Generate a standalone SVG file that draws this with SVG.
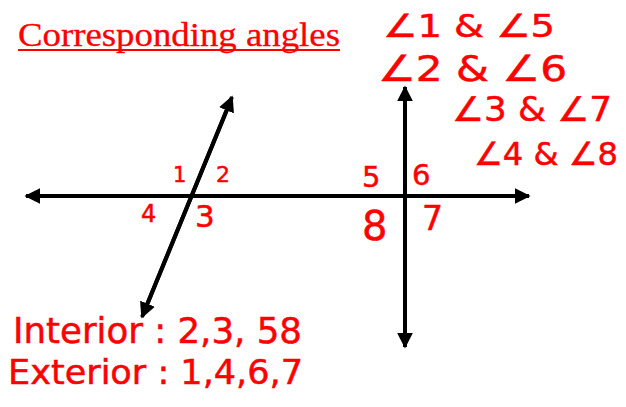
<svg xmlns="http://www.w3.org/2000/svg" width="626" height="407" viewBox="0 0 626 407">
<style>
.ln{stroke:#000;stroke-width:4;fill:none}
.hw{fill:#ff0000;stroke:#ff0000;stroke-width:0.5;font-family:"DejaVu Sans","Liberation Sans",sans-serif}
.title{fill:#ff0000;stroke:#ff0000;stroke-width:0.3;font-family:"Liberation Serif",serif;font-size:34px}
</style>
<defs>
<marker id="ah" viewBox="0 0 10 10" refX="9" refY="5" markerWidth="4" markerHeight="4" orient="auto" markerUnits="strokeWidth">
<path d="M0,0 L10,5 L0,10 z" fill="#000"/>
</marker>
</defs>
<rect width="626" height="407" fill="#fff"/>
<g id="title">
<text class="title" x="18" y="46" textLength="322" lengthAdjust="spacingAndGlyphs">Corresponding angles</text>
<rect x="18" y="49" width="322" height="2" fill="#ff0000"/>
</g>
<g id="connectors">
<line class="ln" x1="520" y1="196" x2="26" y2="196" marker-end="url(#ah)"/>
<line class="ln" x1="26" y1="196" x2="529" y2="196" marker-end="url(#ah)"/>
<line class="ln" x1="405" y1="340" x2="405" y2="87" marker-end="url(#ah)"/>
<line class="ln" x1="405" y1="90" x2="405" y2="347" marker-end="url(#ah)"/>
<line class="ln" x1="144" y1="312" x2="232" y2="97" marker-end="url(#ah)"/>
<line class="ln" x1="231" y1="100" x2="142" y2="317" marker-end="url(#ah)"/>
</g>
<g id="pairs">
<text class="hw" x="383" y="37" font-size="32" textLength="172" lengthAdjust="spacingAndGlyphs">∠1 &amp; ∠5</text>
<text class="hw" x="378" y="81" font-size="36" textLength="189" lengthAdjust="spacingAndGlyphs">∠2 &amp; ∠6</text>
<text class="hw" x="452" y="121" font-size="34" textLength="160" lengthAdjust="spacingAndGlyphs">∠3 &amp; ∠7</text>
<text class="hw" x="474" y="165" font-size="32" textLength="144" lengthAdjust="spacingAndGlyphs">∠4 &amp; ∠8</text>
</g>
<g id="angle-labels">
<text class="hw" x="173" y="182" font-size="21">1</text>
<text class="hw" x="216" y="182" font-size="22">2</text>
<text class="hw" x="362" y="187" font-size="29">5</text>
<text class="hw" x="412" y="185" font-size="29">6</text>
<text class="hw" x="141" y="222" font-size="24">4</text>
<text class="hw" x="195" y="227" font-size="31">3</text>
<text class="hw" x="362" y="240" font-size="40">8</text>
<text class="hw" x="422" y="230" font-size="33">7</text>
</g>
<g id="notes">
<text class="hw" x="13" y="343" font-size="36" textLength="289" lengthAdjust="spacingAndGlyphs">Interior : 2,3, 58</text>
<text class="hw" x="8" y="384" font-size="34" textLength="295" lengthAdjust="spacingAndGlyphs">Exterior : 1,4,6,7</text>
</g>
</svg>
